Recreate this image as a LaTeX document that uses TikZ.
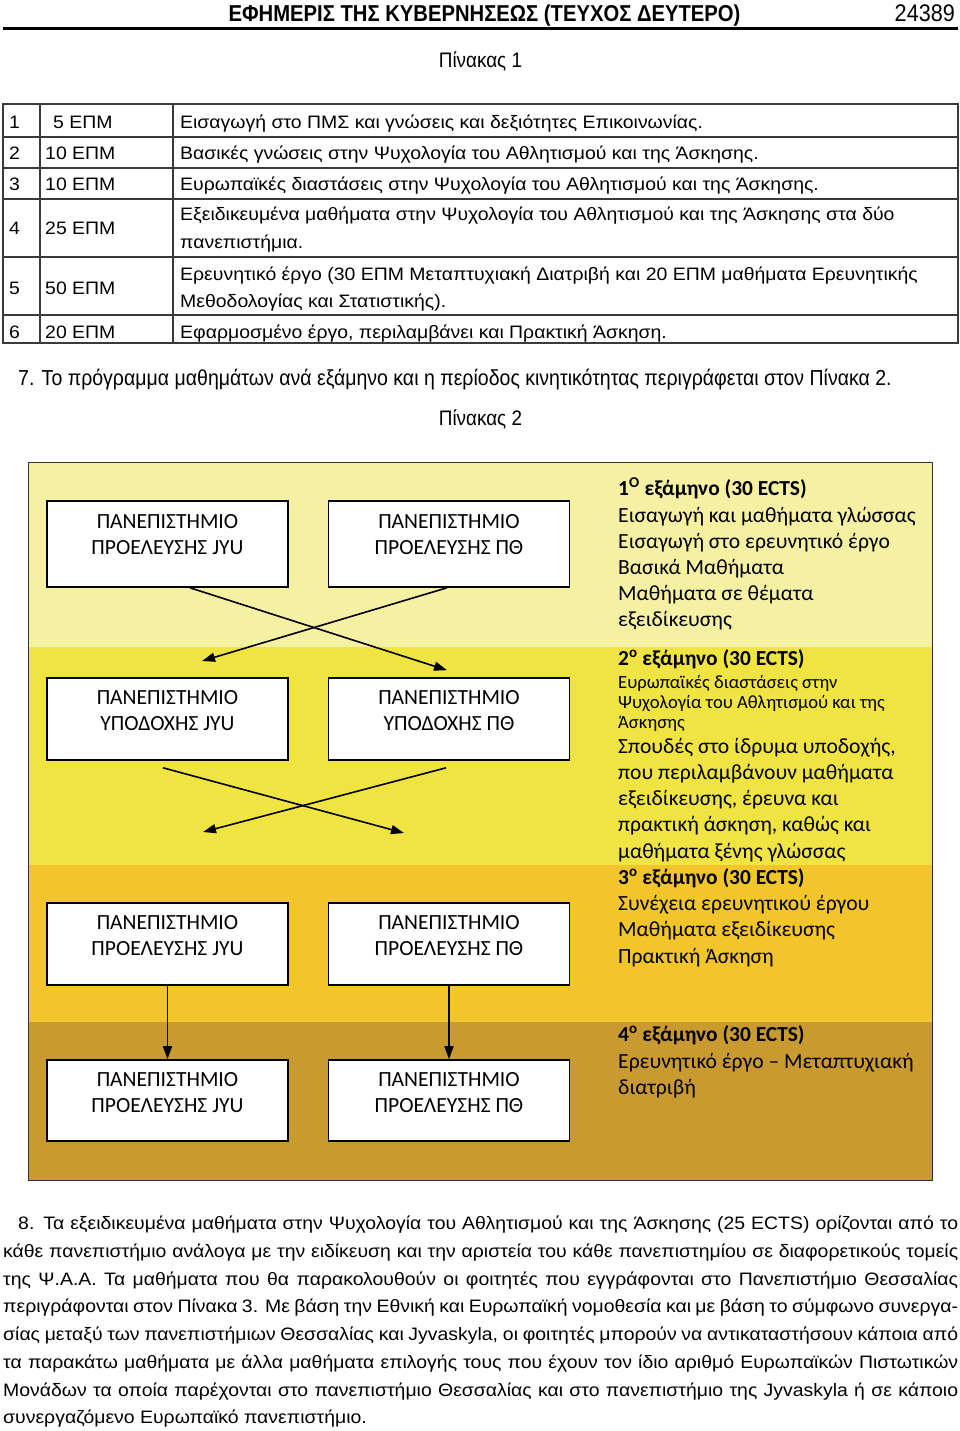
\documentclass[tikz,border=0pt]{standalone}
\usepackage{fontspec}
\setmainfont{Liberation Sans}
\newfontfamily\narrowf[FakeStretch=0.9]{Liberation Sans}
\newfontfamily\headf[FakeStretch=0.88]{Liberation Sans}
\newfontfamily\widef[FakeStretch=1.08]{Liberation Sans}
\newfontfamily\carl{Carlito}
\usetikzlibrary{arrows.meta}
\definecolor{bandA}{HTML}{F6F0A3}
\definecolor{bandB}{HTML}{F0E442}
\definecolor{bandC}{HTML}{F2C52B}
\definecolor{bandD}{HTML}{C89A30}
\definecolor{rulegray}{HTML}{3A3A3A}
\begin{document}
\begin{tikzpicture}[x=1pt,y=-1pt,
  tabtxt/.style={anchor=base west, inner sep=0pt, font=\widef\fontsize{18}{20}\selectfont},
  narrowtxt/.style={inner sep=0pt, font=\narrowf\fontsize{21}{23}\selectfont},
  unibox/.style={draw=black, line width=1.6pt, fill=white, minimum width=241pt, inner sep=0pt},
  unitext/.style={font=\carl\fontsize{21.6}{26}\selectfont, align=center, inner sep=0pt},
  sem/.style={anchor=base west, inner sep=0pt, font=\carl\fontsize{21.6}{26}\selectfont},
  semhead/.style={anchor=base west, inner sep=0pt, font=\carl\bfseries\fontsize{21.4}{26}\selectfont},
  semsmall/.style={anchor=base west, inner sep=0pt, font=\carl\fontsize{18.6}{20}\selectfont},
  arr/.style={line width=1.6pt, -{Triangle[length=13pt,width=9pt]}},
  para/.style={anchor=base west, inner sep=0pt, font=\widef\fontsize{18}{20}\selectfont},
  tabline/.style={draw=rulegray, line width=1.3pt}
]
\useasboundingbox (0,0) rectangle (960,1431);
\fill[white] (0,0) rectangle (960,1431);

% header
\node[anchor=base, inner sep=0pt, font=\headf\bfseries\fontsize{23}{25}\selectfont] (hdr) at (484.5,22) {ΕΦΗΜΕΡΙΣ ΤΗΣ ΚΥΒΕΡΝΗΣΕΩΣ (ΤΕΥΧΟΣ ΔΕΥΤΕΡΟ)};
\node[anchor=base east, inner sep=0pt, font=\narrowf\fontsize{24}{26}\selectfont] (pgno) at (955,22) {24389};
\draw[line width=3pt] (3,29) -- (958,29);

\node[narrowtxt, anchor=base] (tab1) at (480.5,68) {Πίνακας 1};

% table 1
\draw[tabline] (3,104) rectangle (958,343);
\foreach \yy in {137,168,199,257,315} { \draw[tabline] (3,\yy) -- (958,\yy); }
\draw[tabline] (40,104) -- (40,343);
\draw[tabline] (173,104) -- (173,343);

\node[tabtxt] (n1) at (9,129) {1};
\node[tabtxt] (c1) at (53,129) {5 ΕΠΜ};
\node[tabtxt] (d1) at (180,129) {Εισαγωγή στο ΠΜΣ και γνώσεις και δεξιότητες Επικοινωνίας.};
\node[tabtxt] (n2) at (9,160) {2};
\node[tabtxt] (c2) at (45,160) {10 ΕΠΜ};
\node[tabtxt] (d2) at (180,160) {Βασικές γνώσεις στην Ψυχολογία του Αθλητισμού και της Άσκησης.};
\node[tabtxt] (n3) at (9,191) {3};
\node[tabtxt] (c3) at (45,191) {10 ΕΠΜ};
\node[tabtxt] (d3) at (180,191) {Ευρωπαϊκές διαστάσεις στην Ψυχολογία του Αθλητισμού και της Άσκησης.};
\node[tabtxt] (n4) at (9,235) {4};
\node[tabtxt] (c4) at (45,235) {25 ΕΠΜ};
\node[tabtxt] (d4a) at (180,221) {Εξειδικευμένα μαθήματα στην Ψυχολογία του Αθλητισμού και της Άσκησης στα δύο};
\node[tabtxt] (d4b) at (180,249) {πανεπιστήμια.};
\node[tabtxt] (n5) at (9,294) {5};
\node[tabtxt] (c5) at (45,294) {50 ΕΠΜ};
\node[tabtxt] (d5a) at (180,280) {Ερευνητικό έργο (30 ΕΠΜ Μεταπτυχιακή Διατριβή και 20 ΕΠΜ μαθήματα Ερευνητικής};
\node[tabtxt] (d5b) at (180,307) {Μεθοδολογίας και Στατιστικής).};
\node[tabtxt] (n6) at (9,338) {6};
\node[tabtxt] (c6) at (45,338) {20 ΕΠΜ};
\node[tabtxt] (d6) at (180,338) {Εφαρμοσμένο έργο, περιλαμβάνει και Πρακτική Άσκηση.};

\node[narrowtxt, anchor=base west, font=\narrowf\fontsize{21.7}{23}\selectfont] (p7) at (18,385) {7. Το πρόγραμμα μαθημάτων ανά εξάμηνο και η περίοδος κινητικότητας περιγράφεται στον Πίνακα 2.};
\node[narrowtxt, anchor=base] (tab2) at (480.5,425) {Πίνακας 2};

% bands
\fill[bandA] (28,462) rectangle (932,647);
\fill[bandB] (28,647) rectangle (932,865);
\fill[bandC] (28,865) rectangle (932,1022);
\fill[bandD] (28,1022) rectangle (932,1180);
\draw[line width=1pt, black!80] (28,462) rectangle (932,1180);

% boxes
\node[unibox, minimum height=86pt] (A) at (167.5,544) {};
\node[unibox, minimum height=86pt] (B) at (449,544) {};
\node[unibox, minimum height=82pt] (C) at (167.5,719) {};
\node[unibox, minimum height=82pt] (D) at (449,719) {};
\node[unibox, minimum height=82pt] (E) at (167.5,944) {};
\node[unibox, minimum height=82pt] (F) at (449,944) {};
\node[unibox, minimum height=81pt] (G) at (167.5,1100.5) {};
\node[unibox, minimum height=81pt] (H) at (449,1100.5) {};

\node[unitext] (At) at (167.5,535) {ΠΑΝΕΠΙΣΤΗΜΙΟ\\ΠΡΟΕΛΕΥΣΗΣ JYU};
\node[unitext] (Bt) at (449,535) {ΠΑΝΕΠΙΣΤΗΜΙΟ\\ΠΡΟΕΛΕΥΣΗΣ ΠΘ};
\node[unitext] (Ct) at (167.5,711) {ΠΑΝΕΠΙΣΤΗΜΙΟ\\ΥΠΟΔΟΧΗΣ JYU};
\node[unitext] (Dt) at (449,711) {ΠΑΝΕΠΙΣΤΗΜΙΟ\\ΥΠΟΔΟΧΗΣ ΠΘ};
\node[unitext] (Et) at (167.5,936) {ΠΑΝΕΠΙΣΤΗΜΙΟ\\ΠΡΟΕΛΕΥΣΗΣ JYU};
\node[unitext] (Ft) at (449,936) {ΠΑΝΕΠΙΣΤΗΜΙΟ\\ΠΡΟΕΛΕΥΣΗΣ ΠΘ};
\node[unitext] (Gt) at (167.5,1093) {ΠΑΝΕΠΙΣΤΗΜΙΟ\\ΠΡΟΕΛΕΥΣΗΣ JYU};
\node[unitext] (Ht) at (449,1093) {ΠΑΝΕΠΙΣΤΗΜΙΟ\\ΠΡΟΕΛΕΥΣΗΣ ΠΘ};

% connectors
\coordinate (x1) at (202,661);
\coordinate (x2r) at (404,833);
\coordinate (x2l) at (203,832);
\draw[arr] ([xshift=22.5pt]A.south) -- ([xshift=-2pt,yshift=7pt]D.north);
\draw[arr] ([xshift=-2pt]B.south) -- (x1);
\draw[arr] ([shift={(-4.5pt,-7pt)}]C.south) -- (x2r);
\draw[arr] ([shift={(-3pt,-7pt)}]D.south) -- (x2l);
\draw[arr] (E) -- (G);
\draw[arr] (F) -- (H);

% semester texts
\node[semhead] (s1) at (618,495) {1\textsuperscript{Ο} εξάμηνο (30 ECTS)};
\node[sem] (s1a) at (618,522) {Εισαγωγή και μαθήματα γλώσσας};
\node[sem] (s1b) at (618,548) {Εισαγωγή στο ερευνητικό έργο};
\node[sem] (s1c) at (618,574) {Βασικά Μαθήματα};
\node[sem] (s1d) at (618,600) {Μαθήματα σε θέματα};
\node[sem] (s1e) at (618,626) {εξειδίκευσης};

\node[semhead] (s2) at (618,665) {2\textsuperscript{ο} εξάμηνο (30 ECTS)};
\node[semsmall] (s2a) at (618,688) {Ευρωπαϊκές διαστάσεις στην};
\node[semsmall] (s2b) at (618,708) {Ψυχολογία του Αθλητισμού και της};
\node[semsmall] (s2c) at (618,728) {Άσκησης};
\node[sem] (s2d) at (618,753) {Σπουδές στο ίδρυμα υποδοχής,};
\node[sem] (s2e) at (618,779) {που περιλαμβάνουν μαθήματα};
\node[sem] (s2f) at (618,805) {εξειδίκευσης, έρευνα και};
\node[sem] (s2g) at (618,831) {πρακτική άσκηση, καθώς και};
\node[sem] (s2h) at (618,858) {μαθήματα ξένης γλώσσας};

\node[semhead] (s3) at (618,884) {3\textsuperscript{ο} εξάμηνο (30 ECTS)};
\node[sem] (s3a) at (618,910) {Συνέχεια ερευνητικού έργου};
\node[sem] (s3b) at (618,936) {Μαθήματα εξειδίκευσης};
\node[sem] (s3c) at (618,963) {Πρακτική Άσκηση};

\node[semhead] (s4) at (618,1041) {4\textsuperscript{ο} εξάμηνο (30 ECTS)};
\node[sem] (s4a) at (618,1068) {Ερευνητικό έργο – Μεταπτυχιακή};
\node[sem] (s4b) at (618,1094) {διατριβή};

% paragraph 8
\node[para] (q1) at (18,1229) {\makebox[940pt][s]{8. Τα εξειδικευμένα μαθήματα στην Ψυχολογία του Αθλητισμού και της Άσκησης (25 ECTS) ορίζονται από το}};
\node[para] (q2) at (3,1257) {\makebox[955pt][s]{κάθε πανεπιστήμιο ανάλογα με την ειδίκευση και την αριστεία του κάθε πανεπιστημίου σε διαφορετικούς τομείς}};
\node[para] (q3) at (3,1285) {\makebox[955pt][s]{της Ψ.Α.Α. Τα μαθήματα που θα παρακολουθούν οι φοιτητές που εγγράφονται στο Πανεπιστήμιο Θεσσαλίας}};
\node[para] (q4) at (3,1312) {\makebox[955pt][s]{περιγράφονται στον Πίνακα 3. Με βάση την Εθνική και Ευρωπαϊκή νομοθεσία και με βάση το σύμφωνο συνεργα-}};
\node[para] (q5) at (3,1340) {\makebox[955pt][s]{σίας μεταξύ των πανεπιστήμιων Θεσσαλίας και Jyvaskyla, οι φοιτητές μπορούν να αντικαταστήσουν κάποια από}};
\node[para] (q6) at (3,1368) {\makebox[955pt][s]{τα παρακάτω μαθήματα με άλλα μαθήματα επιλογής τους που έχουν τον ίδιο αριθμό Ευρωπαϊκών Πιστωτικών}};
\node[para] (q7) at (3,1396) {\makebox[955pt][s]{Μονάδων τα οποία παρέχονται στο πανεπιστήμιο Θεσσαλίας και στο πανεπιστήμιο της Jyvaskyla ή σε κάποιο}};
\node[para] (q8) at (3,1423) {συνεργαζόμενο Ευρωπαϊκό πανεπιστήμιο.};
\end{tikzpicture}
\end{document}
